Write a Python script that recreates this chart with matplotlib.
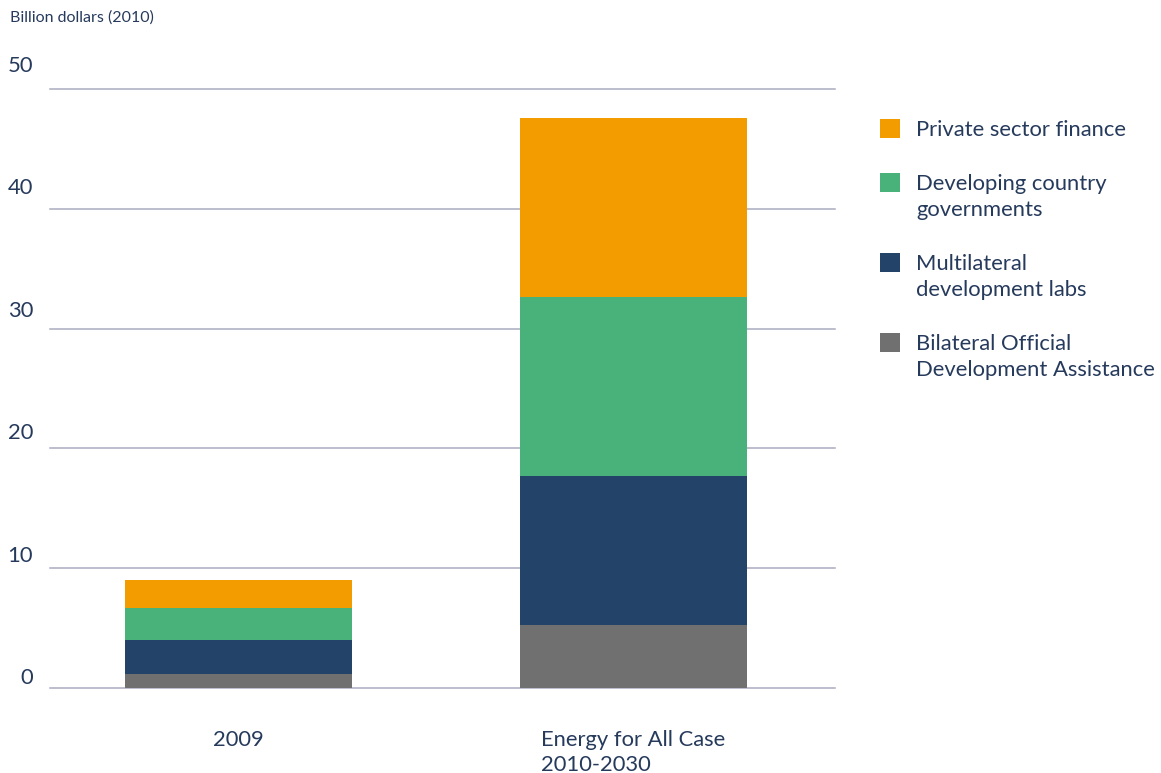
import matplotlib
matplotlib.use("Agg")
import matplotlib.pyplot as plt
from matplotlib.patches import Rectangle

plt.rcParams['font.family'] = ['Lato', 'DejaVu Sans']

categories = ["2009", "Energy for All Case\n2010-2030"]
series_names = ["Bilateral Official\nDevelopment Assistance",
                "Multilateral\ndevelopment labs",
                "Developing country\ngovernments",
                "Private sector finance"]
bilateral = [1.2, 5.3]
multilateral = [2.8, 12.4]
developing = [2.7, 14.9]
private = [2.3, 15.0]
series_values = [bilateral, multilateral, developing, private]
colors = ["#707070", "#244369", "#48B27A", "#F39C00"]
yticks = [0, 10, 20, 30, 40, 50]

text_color = "#263A5C"
grid_color = "#A9ABC0"
fs = 15.8
ls = 1.40

W, H = 1161, 773
fig = plt.figure(figsize=(W / 100, H / 100), dpi=100)

# axes geometry (pixels)
x0, x1 = 50, 835
y_zero = 688
px_per_unit = 11.98
ymax = 51
ax = fig.add_axes([x0 / W, (H - y_zero) / H, (x1 - x0) / W, ymax * px_per_unit / H])
ax.set_ylim(0, ymax)
ax.set_xlim(-0.477, 1.510)

for v in yticks:
    ax.axhline(v, color=grid_color, lw=1.1, zorder=0, clip_on=False)

x = list(range(len(categories)))
bottom = [0.0] * len(categories)
for vals, col in zip(series_values, colors):
    ax.bar(x, vals, width=0.575, bottom=bottom, color=col, zorder=2, linewidth=0)
    bottom = [b + v for b, v in zip(bottom, vals)]

for s in ax.spines.values():
    s.set_visible(False)
ax.set_xticks([])
ax.set_yticks([])

# y tick labels (placed above gridlines)
for v in yticks:
    ypix = 678 - v * 12.24
    fig.text(33 / W, 1 - ypix / H, str(v), ha='right', va='center',
             fontsize=fs, color=text_color)

fig.text(10 / W, 1 - 18 / H, "Billion dollars (2010)", ha='left', va='center',
         fontsize=11.5, color=text_color)

# category labels
for xi, cat in zip(x, categories):
    ax.annotate(cat, xy=(xi, 0), xycoords='data', xytext=(0, -(730 - y_zero)),
                textcoords='offset pixels', ha='center', va='top',
                multialignment='left', fontsize=fs, color=text_color,
                linespacing=1.30, annotation_clip=False)

# legend (top to bottom: reverse of stack order)
ytop = 128
for name, col in zip(series_names[::-1], colors[::-1]):
    fig.add_artist(Rectangle((880 / W, 1 - (ytop + 9.5) / H), 20 / W, 19 / H,
                             transform=fig.transFigure, color=col, lw=0))
    fig.text(916 / W, 1 - (ytop - 8) / H, name, ha='left', va='top',
             fontsize=fs, color=text_color, linespacing=ls)
    nlines = name.count("\n") + 1
    ytop += 26 * (nlines - 1) + 54

fig.savefig("out.png", dpi=100)
